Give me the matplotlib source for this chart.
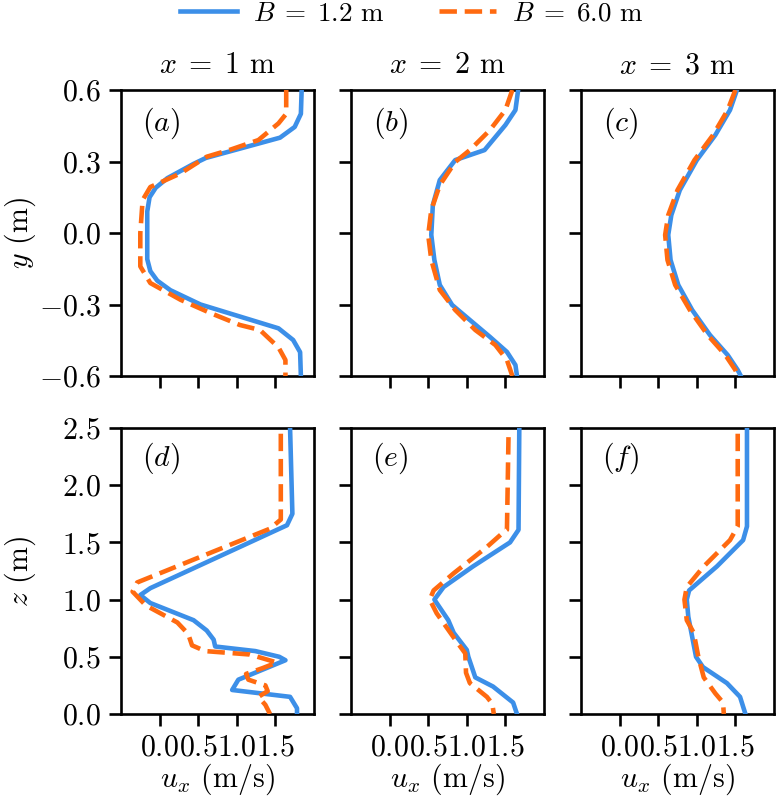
import matplotlib
matplotlib.use("Agg")
import matplotlib.pyplot as plt
from matplotlib.ticker import FixedLocator, FuncFormatter
from matplotlib.lines import Line2D

plt.rcParams['font.family'] = 'serif'
plt.rcParams['font.serif'] = ['cmr10']
plt.rcParams['mathtext.fontset'] = 'cm'
plt.rcParams['axes.formatter.use_mathtext'] = True
FS = 21.5
LFS = 19.5

BLUE = '#3C8FE8'
ORANGE = '#FF6A10'

# ---------------- data ----------------
# panel (a): x = 1 m, horizontal profile
a_blue_y = [0.6, 0.5, 0.445, 0.40, 0.315, 0.29, 0.23, 0.19, 0.15, 0.09, 0.0, -0.11, -0.16, -0.20, -0.24, -0.30, -0.40, -0.449, -0.5, -0.6]
a_blue_u = [1.84, 1.83, 1.75, 1.56, 0.60, 0.44, 0.10, -0.05, -0.13, -0.16, -0.16, -0.16, -0.12, -0.03, 0.14, 0.53, 1.54, 1.73, 1.82, 1.83]
a_or_y = [0.6, 0.50, 0.46, 0.39, 0.35, 0.32, 0.25, 0.193, 0.138, 0.0, -0.14, -0.21, -0.28, -0.336, -0.386, -0.407, -0.48, -0.533, -0.6]
a_or_u = [1.64, 1.64, 1.54, 1.28, 0.92, 0.61, 0.27, -0.12, -0.22, -0.25, -0.25, -0.12, 0.27, 0.66, 1.04, 1.30, 1.54, 1.63, 1.63]

# panel (b): x = 2 m
b_blue_y = [0.6, 0.516, 0.453, 0.348, 0.306, 0.222, 0.117, -0.008, -0.113, -0.218, -0.302, -0.365, -0.436, -0.499, -0.554, -0.6]
b_blue_u = [1.665, 1.63, 1.50, 1.23, 0.85, 0.65, 0.56, 0.54, 0.58, 0.65, 0.81, 1.04, 1.30, 1.52, 1.63, 1.65]
b_or_y = [0.6, 0.516, 0.432, 0.348, 0.298, 0.201, 0.096, -0.008, -0.113, -0.239, -0.323, -0.407, -0.470, -0.533, -0.6]
b_or_u = [1.59, 1.50, 1.30, 1.04, 0.85, 0.65, 0.54, 0.50, 0.54, 0.65, 0.85, 1.11, 1.37, 1.52, 1.59]

# panel (c): x = 3 m
c_blue_y = [0.6, 0.516, 0.411, 0.306, 0.180, 0.075, -0.008, -0.113, -0.218, -0.323, -0.428, -0.512, -0.575, -0.6]
c_blue_u = [1.52, 1.43, 1.24, 1.00, 0.78, 0.67, 0.63, 0.66, 0.76, 0.94, 1.17, 1.40, 1.53, 1.57]
c_or_y = [0.6, 0.516, 0.411, 0.306, 0.180, 0.075, -0.008, -0.113, -0.218, -0.323, -0.428, -0.512, -0.575, -0.6]
c_or_u = [1.50, 1.40, 1.21, 0.97, 0.75, 0.63, 0.59, 0.62, 0.72, 0.91, 1.14, 1.37, 1.50, 1.53]

# panel (d): x = 1 m, vertical profile
d_blue_z = [2.5, 1.75, 1.65, 1.10, 1.04, 0.97, 0.82, 0.73, 0.65, 0.59, 0.55, 0.50, 0.47, 0.30, 0.21, 0.15, 0.05, 0.0]
d_blue_u = [1.69, 1.72, 1.65, -0.12, -0.25, -0.12, 0.44, 0.61, 0.70, 0.72, 1.24, 1.55, 1.63, 1.02, 0.94, 1.69, 1.78, 1.78]
d_or_z = [2.45, 1.70, 1.62, 1.15, 1.07, 0.95, 0.80, 0.70, 0.60, 0.55, 0.52, 0.45, 0.40, 0.35, 0.30, 0.25, 0.20, 0.15, 0.08, 0.0]
d_or_u = [1.57, 1.57, 1.43, -0.29, -0.35, -0.18, 0.23, 0.37, 0.42, 0.59, 1.17, 1.52, 1.33, 1.12, 1.15, 1.37, 1.40, 1.28, 1.37, 1.43]

# panel (e): x = 2 m
e_blue_z = [2.5, 1.61, 1.50, 1.29, 1.11, 1.0, 0.88, 0.82, 0.71, 0.56, 0.50, 0.32, 0.24, 0.10, 0.0]
e_blue_u = [1.68, 1.67, 1.56, 1.08, 0.70, 0.58, 0.70, 0.76, 0.83, 1.00, 1.02, 1.11, 1.34, 1.60, 1.65]
e_or_z = [2.42, 1.61, 1.58, 1.46, 1.23, 1.08, 1.0, 0.88, 0.65, 0.53, 0.36, 0.27, 0.15, 0.09, 0.0]
e_or_u = [1.54, 1.52, 1.46, 1.26, 0.83, 0.57, 0.52, 0.61, 0.85, 0.98, 0.99, 1.04, 1.26, 1.33, 1.35]

# panel (f): x = 3 m
f_blue_z = [2.5, 1.64, 1.52, 1.29, 1.08, 1.0, 0.85, 0.71, 0.50, 0.41, 0.27, 0.15, 0.0]
f_blue_u = [1.65, 1.65, 1.60, 1.26, 0.90, 0.87, 0.89, 0.93, 0.99, 1.08, 1.39, 1.56, 1.63]
f_or_z = [2.45, 1.64, 1.52, 1.29, 1.11, 1.0, 0.82, 0.71, 0.50, 0.32, 0.18, 0.10, 0.0]
f_or_u = [1.53, 1.53, 1.43, 1.09, 0.87, 0.84, 0.87, 0.96, 1.02, 1.09, 1.24, 1.34, 1.35]

col_titles = [r'$x \;=\; 1$ m', r'$x \;=\; 2$ m', r'$x \;=\; 3$ m']
panel_labels = ['(a)', '(b)', '(c)', '(d)', '(e)', '(f)']
legend_labels = [r'$B \;=\; 1.2$ m', r'$B \;=\; 6.0$ m']
x_ticks = [0.0, 0.5, 1.0, 1.5]
y_ticks_top = [-0.6, -0.3, 0.0, 0.3, 0.6]
y_ticks_bot = [0.0, 0.5, 1.0, 1.5, 2.0, 2.5]

blue_top = [(a_blue_u, a_blue_y), (b_blue_u, b_blue_y), (c_blue_u, c_blue_y)]
or_top = [(a_or_u, a_or_y), (b_or_u, b_or_y), (c_or_u, c_or_y)]
blue_bot = [(d_blue_u, d_blue_z), (e_blue_u, e_blue_z), (f_blue_u, f_blue_z)]
or_bot = [(d_or_u, d_or_z), (e_or_u, e_or_z), (f_or_u, f_or_z)]

# ---------------- figure ----------------
W, H = 776, 799
fig = plt.figure(figsize=(W / 100, H / 100), dpi=100)

lefts = [121, 351, 581]
aw = 193
tops = [90, 428]
ah = 286
LW = 3.3
SW = 1.9
DASH = (0, (3.8, 1.7))

fmt = FuncFormatter(lambda v, p: r'$%.1f$' % v)

axes = []
for r in range(2):
    for c in range(3):
        ax = fig.add_axes([lefts[c] / W, 1 - (tops[r] + ah) / H, aw / W, ah / H])
        axes.append(ax)
        if r == 0:
            bu, by = blue_top[c]
            ou, oy = or_top[c]
            ax.set_ylim(-0.6, 0.6)
            ax.yaxis.set_major_locator(FixedLocator(y_ticks_top))
        else:
            bu, by = blue_bot[c]
            ou, oy = or_bot[c]
            ax.set_ylim(0.0, 2.5)
            ax.yaxis.set_major_locator(FixedLocator(y_ticks_bot))
        ax.plot(bu, by, color=BLUE, lw=LW, zorder=3)
        ax.plot(ou, oy, color=ORANGE, lw=LW, ls=DASH, zorder=4)
        ax.set_xlim(-0.5, 2.0)
        ax.xaxis.set_major_locator(FixedLocator(x_ticks))
        ax.xaxis.set_major_formatter(fmt)
        ax.yaxis.set_major_formatter(fmt)
        for s in ax.spines.values():
            s.set_linewidth(SW)
        ax.tick_params(direction='out', length=8.5, width=SW, labelsize=FS, pad=6)
        if c != 0:
            ax.tick_params(labelleft=False)
        if r == 0:
            ax.tick_params(labelbottom=False)
            ax.set_title(col_titles[c], fontsize=FS, pad=12)
        else:
            ax.set_xlabel(r'$u_x$ (m/s)', fontsize=FS, labelpad=0)
        ax.text(0.205, 0.885 if r == 0 else 0.895, '$' + panel_labels[r * 3 + c] + '$',
                transform=ax.transAxes, fontsize=FS, ha='center', va='center')

for ax, lab in [(axes[0], r'$y$ (m)'), (axes[3], r'$z$ (m)')]:
    ax.set_ylabel(lab, fontsize=FS, va='center')
    ax.yaxis.set_label_coords(-0.52, 0.5)

handles = [Line2D([], [], color=BLUE, lw=LW),
           Line2D([], [], color=ORANGE, lw=LW, ls=DASH)]
fig.legend(handles, legend_labels, loc='center', bbox_to_anchor=(0.531, 1 - 14 / H),
           ncol=2, frameon=False, fontsize=LFS, handlelength=2.1,
           handletextpad=0.6, columnspacing=2.0, borderaxespad=0, borderpad=0)

fig.savefig('out.png', dpi=100)
